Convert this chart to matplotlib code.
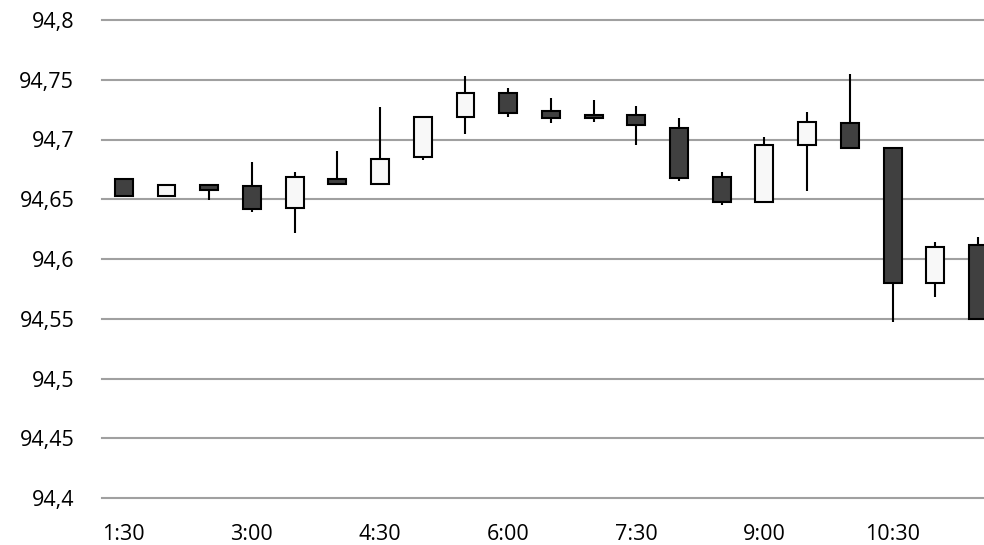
import matplotlib
matplotlib.use("Agg")
import matplotlib.pyplot as plt
import numpy as np

times = ["1:30", "2:00", "2:30", "3:00", "3:30", "4:00", "4:30", "5:00", "5:30", "6:00",
         "6:30", "7:00", "7:30", "8:00", "8:30", "9:00", "9:30", "10:00", "10:30", "11:00", "11:30"]
opens  = [94.667, 94.653, 94.662, 94.661, 94.643, 94.667, 94.663, 94.685, 94.719, 94.739,
          94.724, 94.7205, 94.7205, 94.710, 94.669, 94.648, 94.695, 94.714, 94.693, 94.580, 94.612]
highs  = [94.667, 94.662, 94.663, 94.681, 94.673, 94.690, 94.727, 94.720, 94.753, 94.743,
          94.735, 94.733, 94.728, 94.718, 94.673, 94.702, 94.723, 94.755, 94.693, 94.6145, 94.618]
lows   = [94.6516, 94.652, 94.649, 94.639, 94.622, 94.662, 94.662, 94.683, 94.705, 94.719,
          94.714, 94.715, 94.695, 94.665, 94.645, 94.648, 94.657, 94.692, 94.547, 94.568, 94.550]
closes = [94.653, 94.662, 94.658, 94.642, 94.669, 94.663, 94.684, 94.719, 94.739, 94.722,
          94.718, 94.718, 94.712, 94.668, 94.648, 94.695, 94.715, 94.693, 94.580, 94.610, 94.550]
yticks = [94.4, 94.45, 94.5, 94.55, 94.6, 94.65, 94.7, 94.75, 94.8]
ytick_labels = ["94,4", "94,45", "94,5", "94,55", "94,6", "94,65", "94,7", "94,75", "94,8"]

plt.rcParams['font.family'] = ['Open Sans', 'DejaVu Sans']

fig = plt.figure(figsize=(9.84, 5.45), dpi=100)
ax = fig.add_axes([102/984, 1 - 498/545, 1 - 102/984, 478/545])

x = np.arange(len(times))
o = np.array(opens); c = np.array(closes)
up = c >= o
colors = np.where(up, "#f8f8f8", "#404040")

ax.vlines(x, lows, highs, color="black", linewidth=1.5, zorder=3)
ax.bar(x, np.abs(c - o), bottom=np.minimum(o, c), width=0.42,
       color=colors, edgecolor="black", linewidth=1.5, zorder=4)

ax.set_ylim(94.4, 94.8)
ax.set_xlim(-0.51, 20.14)
ax.set_yticks(yticks)
ax.set_yticklabels(ytick_labels)
ax.set_xticks(x[::3])
ax.set_xticklabels(times[::3])
ax.yaxis.grid(True, color="#a0a0a0", linewidth=1.5, zorder=0)
ax.set_axisbelow(True)
for s in ax.spines.values():
    s.set_visible(False)
ax.tick_params(axis="both", length=0, labelsize=15.5, colors="black")
ax.tick_params(axis="y", pad=20)
ax.tick_params(axis="x", pad=19)
for gl in ax.get_ygridlines():
    gl.set_clip_on(False)

fig.savefig("out.png", dpi=100)
